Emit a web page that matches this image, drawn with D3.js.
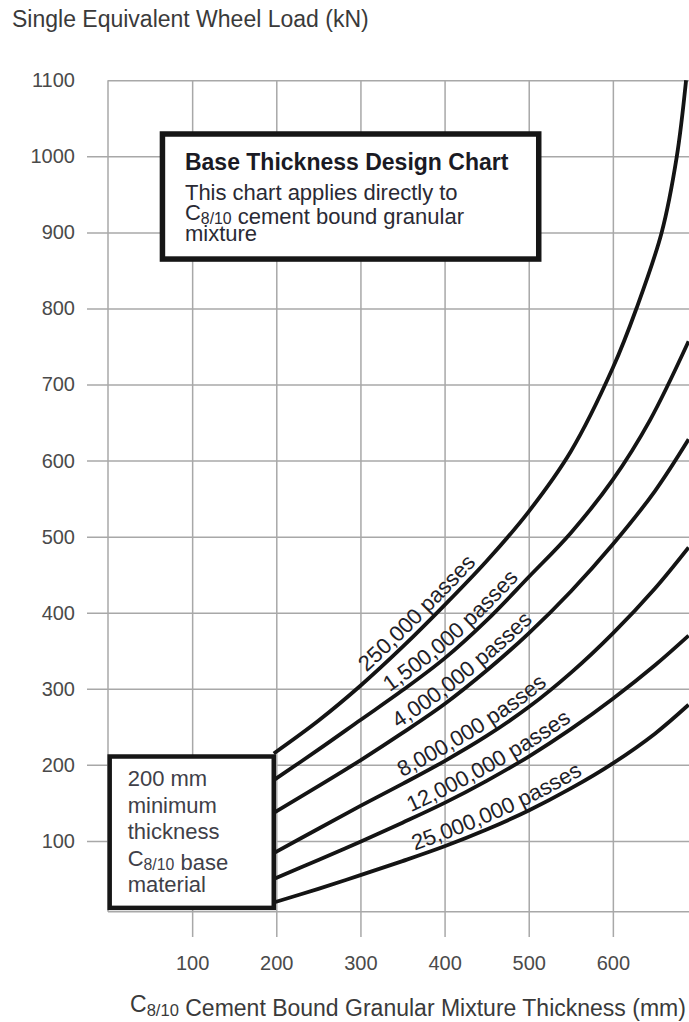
<!DOCTYPE html>
<html>
<head>
<meta charset="utf-8">
<script src="https://cdn.jsdelivr.net/npm/d3@7"></script>
<style>
  body { margin: 0; background: #fff; }
  svg text { font-family: "Liberation Sans", Arial, sans-serif; }
</style>
</head>
<body>
<svg id="chart" width="689" height="1022"></svg>
<script>
// tick values
const xTicks = [100, 200, 300, 400, 500, 600];
const yTicks = [100, 200, 300, 400, 500, 600, 700, 800, 900, 1000, 1100];

// design curves: [thickness mm, load kN]
const passes250k = [[197, 215], [250, 258], [300, 304], [350, 355], [400, 410], [450, 468], [500, 533], [550, 612], [600, 722], [628, 800], [658, 900], [676, 1000], [687, 1100]];
const passes1500k = [[197, 180], [250, 220], [300, 259], [350, 298], [400, 340], [450, 390], [500, 447], [550, 505], [600, 575], [644, 653], [690, 757]];
const passes4m = [[197, 137], [250, 172], [300, 206], [350, 242], [400, 280], [450, 324], [500, 373], [550, 428], [600, 490], [650, 560], [690, 628]];
const passes8m = [[197, 84], [250, 116], [300, 146], [350, 175], [400, 205], [450, 238], [500, 276], [550, 321], [600, 373], [650, 432], [690, 486]];
const passes12m = [[197, 50], [250, 75], [300, 99], [350, 124], [400, 150], [450, 179], [500, 211], [550, 247], [600, 287], [650, 331], [690, 370]];
const passes25m = [[197, 19], [250, 37], [300, 55], [350, 73.5], [400, 93], [450, 115], [500, 140], [550, 169], [600, 202], [650, 241], [690, 279]];

const curveLabels = ["250,000 passes", "1,500,000 passes", "4,000,000 passes", "8,000,000 passes", "12,000,000 passes", "25,000,000 passes"];
const labelStartMm = [312, 339, 349, 353, 363, 367];
const curves = [passes250k, passes1500k, passes4m, passes8m, passes12m, passes25m];

const W = 689, H = 1022;
const svg = d3.select("#chart");

const x = d3.scaleLinear().domain([0, 690]).range([108, 688.6]);
const y = d3.scaleLinear().domain([0, 1100]).range([917, 80.3]);
const yFloor = 7;
const gridColor = "#a8a8a8";
const tickColor = "#4a4a4a";

// horizontal grid + y labels
const yAxis = svg.append("g")
    .attr("transform", "translate(" + W + ",0)")
    .call(d3.axisLeft(y).tickValues(yTicks).tickSize(W - 87).tickPadding(12).tickFormat(d3.format("d")));
yAxis.select(".domain").remove();
yAxis.selectAll("line").attr("stroke", gridColor).attr("stroke-width", 1.5);
yAxis.selectAll(".tick").filter(d => d === 1100).select("line").attr("x2", -(W - x(0)));
yAxis.selectAll("text")
    .attr("font-size", 20)
    .attr("fill", tickColor)
    .style("font-family", "'Liberation Sans', Arial, sans-serif");

// vertical grid + x labels
const xAxis = svg.append("g")
    .attr("transform", "translate(0,937)")
    .call(d3.axisBottom(x).tickValues(xTicks).tickSize(-(937 - y(1100))).tickPadding(19));
xAxis.select(".domain").remove();
xAxis.selectAll("line").attr("stroke", gridColor).attr("stroke-width", 1.5);
xAxis.selectAll("text")
    .attr("font-size", 20)
    .attr("fill", tickColor)
    .style("font-family", "'Liberation Sans', Arial, sans-serif");

// frame: left and bottom
svg.append("line")
    .attr("x1", x(0)).attr("x2", x(0))
    .attr("y1", y(1100)).attr("y2", y(yFloor))
    .attr("stroke", gridColor).attr("stroke-width", 1.5);
svg.append("line")
    .attr("x1", x(0)).attr("x2", W)
    .attr("y1", y(yFloor)).attr("y2", y(yFloor))
    .attr("stroke", gridColor).attr("stroke-width", 1.5);

// curves
const line = d3.line()
    .x(d => x(d[0]))
    .y(d => y(d[1]))
    .curve(d3.curveCatmullRom.alpha(0.5));

svg.append("clipPath").attr("id", "plot-clip")
    .append("rect")
    .attr("x", x(0)).attr("y", y(1100) - 2)
    .attr("width", W - x(0)).attr("height", y(yFloor) - y(1100) + 2);

const paths = svg.append("g")
    .attr("clip-path", "url(#plot-clip)")
    .selectAll("path")
    .data(curves)
    .enter().append("path")
    .attr("id", (d, i) => "curve-" + i)
    .attr("d", line)
    .attr("fill", "none")
    .attr("stroke", "#141414")
    .attr("stroke-width", 3.8)
    .attr("stroke-linecap", "butt");

// labels along the curves
paths.each(function(d, i) {
    const node = this;
    const target = x(labelStartMm[i]);
    let lo = 0, hi = node.getTotalLength();
    for (let k = 0; k < 40; k++) {
        const mid = (lo + hi) / 2;
        if (node.getPointAtLength(mid).x < target) lo = mid; else hi = mid;
    }
    svg.append("text")
        .attr("font-size", 22)
        .attr("fill", "#1e1e28")
        .attr("dy", -6)
        .append("textPath")
        .attr("href", "#curve-" + i)
        .attr("startOffset", lo)
        .text(curveLabels[i]);
});

// helper for C8/10
function addC810(textSel, fontSize) {
    textSel.append("tspan").text("C");
    textSel.append("tspan").attr("font-size", fontSize * 0.72).attr("dy", 4).text("8/10");
    textSel.append("tspan").attr("dy", -4).text("");
}

// title box
const tb = { x0: 64.7, x1: 511.9, y0: 865, y1: 1029.4 };
svg.append("rect")
    .attr("x", x(tb.x0)).attr("y", y(tb.y1))
    .attr("width", x(tb.x1) - x(tb.x0)).attr("height", y(tb.y0) - y(tb.y1))
    .attr("fill", "#fff").attr("stroke", "#161616").attr("stroke-width", 5.5);
const tbx = x(tb.x0) + 22.5, tby = y(tb.y1);
svg.append("text")
    .attr("x", tbx).attr("y", tby + 36)
    .attr("font-size", 23).attr("font-weight", "bold").attr("fill", "#1a1a24")
    .text("Base Thickness Design Chart");
svg.append("text")
    .attr("x", tbx).attr("y", tby + 66)
    .attr("font-size", 22).attr("fill", "#2a2a34")
    .text("This chart applies directly to");
const tb2 = svg.append("text")
    .attr("x", tbx).attr("y", tby + 86)
    .attr("font-size", 22).attr("fill", "#2a2a34");
addC810(tb2, 22);
tb2.append("tspan").text(" cement bound granular");
svg.append("text")
    .attr("x", tbx).attr("y", tby + 107)
    .attr("font-size", 22).attr("fill", "#2a2a34")
    .text("mixture");

// minimum thickness box
const mb = { x0: 2, x1: 197, y0: 12, y1: 211 };
svg.append("rect")
    .attr("x", x(mb.x0)).attr("y", y(mb.y1))
    .attr("width", x(mb.x1) - x(mb.x0)).attr("height", y(mb.y0) - y(mb.y1))
    .attr("fill", "#fff").attr("stroke", "#161616").attr("stroke-width", 4.5);
const mbx = x(mb.x0) + 18, mby = y(mb.y1);
const mbLines = ["200 mm", "minimum", "thickness", null, "material"];
mbLines.forEach((t, i) => {
    const tx = svg.append("text")
        .attr("x", mbx).attr("y", mby + 29.5 + i * 26.5)
        .attr("font-size", 22).attr("fill", "#404048");
    if (t === null) {
        addC810(tx, 22);
        tx.append("tspan").text(" base");
    } else {
        tx.text(t);
    }
});

// axis titles
svg.append("text")
    .attr("x", 12).attr("y", 27)
    .attr("font-size", 23).attr("fill", "#3a3a3a")
    .text("Single Equivalent Wheel Load (kN)");

const xt = svg.append("text")
    .attr("x", 130).attr("y", 1012)
    .attr("font-size", 23).attr("fill", "#3a3a3a");
addC810(xt, 23);
xt.append("tspan").text(" Cement Bound Granular Mixture Thickness (mm)");
</script>
</body>
</html>
